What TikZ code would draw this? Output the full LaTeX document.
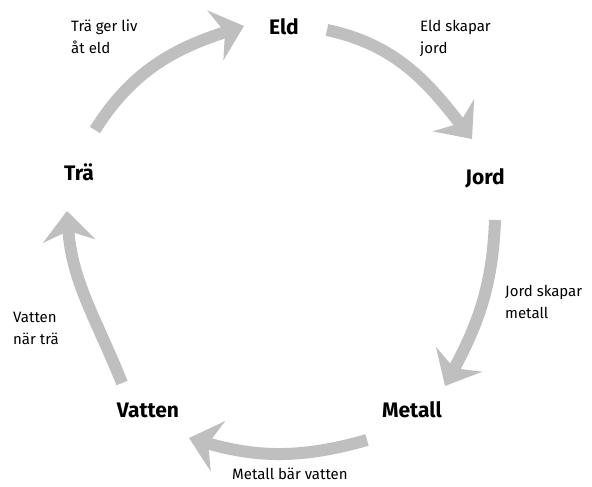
\documentclass[tikz,border=0pt]{standalone}
\usepackage{fontspec}
\setmainfont{Fira Sans}
\usetikzlibrary{arrows.meta}
\begin{document}
\begin{tikzpicture}[x=1pt,y=1pt,
  elem/.style={font=\fontsize{21}{24}\selectfont\bfseries, inner sep=0pt},
  lbl/.style={font=\fontsize{15}{22}\selectfont, align=left, anchor=north west, inner sep=0pt},
  flow/.style={draw=gray!50, line width=12pt,
    -{Stealth[length=30pt,width=52pt,inset=10pt,fill=gray!50]}}]
\useasboundingbox (0,0) rectangle (592,487);
% elements
\node[elem] (eld) at (284,460) {Eld};
\node[elem] (jord) at (485,309) {Jord};
\node[elem] (metall) at (412,77) {Metall};
\node[elem] (vatten) at (148,77) {Vatten};
\node[elem] (tra) at (79,315) {Trä};
% arrow end points
\coordinate (a1s) at (95,357);  \coordinate (a1e) at (244,461);
\coordinate (a2s) at (327,457); \coordinate (a2e) at (472,348);
\coordinate (a3s) at (495,267); \coordinate (a3e) at (445,101);
\coordinate (a4s) at (367,47);  \coordinate (a4e) at (189,49);
\coordinate (a5s) at (122,104); \coordinate (a5e) at (67,276);
% arrows
\draw[flow] (a1s) to[out=58,in=198] (a1e);
\draw[flow] (a2s) to[out=-12,in=128] (a2e);
\draw[flow] (a3s) to[out=-92,in=62] (a3e);
\draw[flow] (a4s) to[out=196,in=-16] (a4e);
\draw[flow] (a5s) to[out=112,in=-86] (a5e);
% labels
\node[lbl] (l1) at (71,467) {Trä ger liv\\åt eld};
\node[lbl] (l2) at (420,467) {Eld skapar\\jord};
\node[lbl] (l3) at (505,202) {Jord skapar\\metall};
\node[lbl] (l4) at (13,175) {Vatten\\när trä};
\node[lbl] (l5) at (232,19) {Metall bär vatten};
\end{tikzpicture}
\end{document}
